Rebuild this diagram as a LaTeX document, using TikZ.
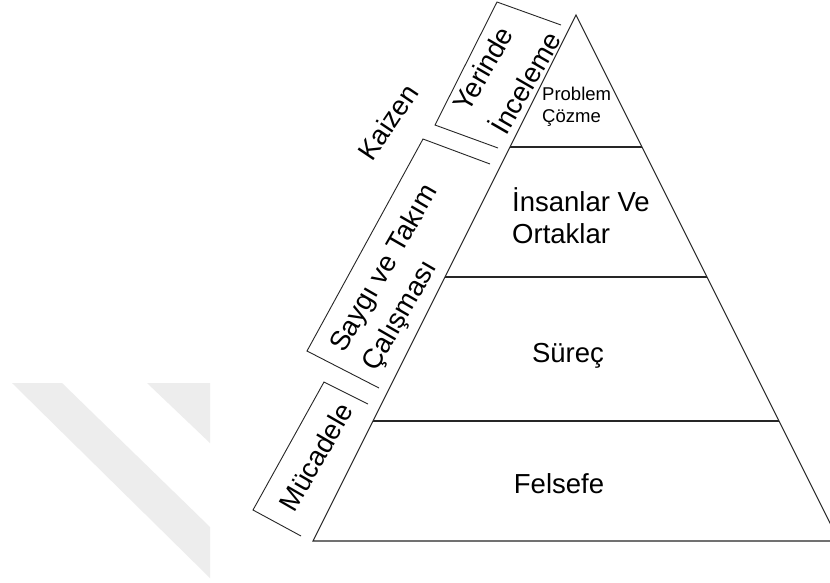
\documentclass[tikz,border=0pt]{standalone}
\usepackage{fontspec}
\setmainfont{Liberation Sans}
\begin{document}
\begin{tikzpicture}[x=1pt,y=-1pt,
  outline/.style={draw=black!85,line width=1.1pt},
  frame/.style={draw=black!85,line width=0.9pt},
  big/.style={font=\fontsize{27.5}{33}\selectfont,inner sep=0pt},
  small/.style={font=\fontsize{18.5}{22}\selectfont,inner sep=0pt},
  tilted/.style={big,rotate=60},
  watermark/.style={fill=black!7,draw=none}]
\clip (0,0) rectangle (830,582);
\fill[white] (0,0) rectangle (830,582);
% faint diagonal bands in the lower left
\fill[watermark] (12,383) -- (62,383) -- (210,527) -- (210,578) -- cycle;
\fill[watermark] (147,383) -- (210,383) -- (210,443) -- cycle;
% pyramid outline
\coordinate (apex) at (576,15);
\coordinate (bl) at (313,541);
\coordinate (br) at (839,541);
\draw[outline] (bl) -- (apex) -- (br) -- cycle;
% tier separators
\coordinate (t1l) at (510,147); \coordinate (t1r) at (642,147);
\coordinate (t2l) at (445,277); \coordinate (t2r) at (707,277);
\coordinate (t3l) at (373,421); \coordinate (t3r) at (779,421);
\draw[outline] (t1l) -- (t1r);
\draw[outline] (t2l) -- (t2r);
\draw[outline] (t3l) -- (t3r);
% tier labels
\node[small,anchor=base west] (problem) at (542,100) {Problem};
\node[small,anchor=base west] (cozme) at (542,122) {Çözme};
\node[big,anchor=base west] (insanlar) at (512,211.5) {İnsanlar Ve};
\node[big,anchor=base west] (ortaklar) at (512,243) {Ortaklar};
\node[big,anchor=base] (surec) at (568,362) {Süreç};
\node[big,anchor=base] (felsefe) at (559,493) {Felsefe};
% side brackets along the left face
\draw[frame] (561,25) -- (497,2) -- (435,125) -- (498,148);
\draw[frame] (490,164) -- (423,139) -- (307,351) -- (379,388);
\draw[frame] (368,404) -- (324,382) -- (253,510) -- (301,536);
% side labels
\node[tilted] (yerinde) at (483,69) {Yerinde};
\node[tilted] (inceleme) at (524,82) {İnceleme};
\node[tilted] (saygi) at (385,269) {Saygı ve Takım};
\node[tilted] (calisma) at (401,316) {Çalışması};
\node[tilted] (mucadele) at (316,457) {Mücadele};
\node[big,rotate=56] (kaizen) at (388,122) {Kaizen};
\end{tikzpicture}
\end{document}
